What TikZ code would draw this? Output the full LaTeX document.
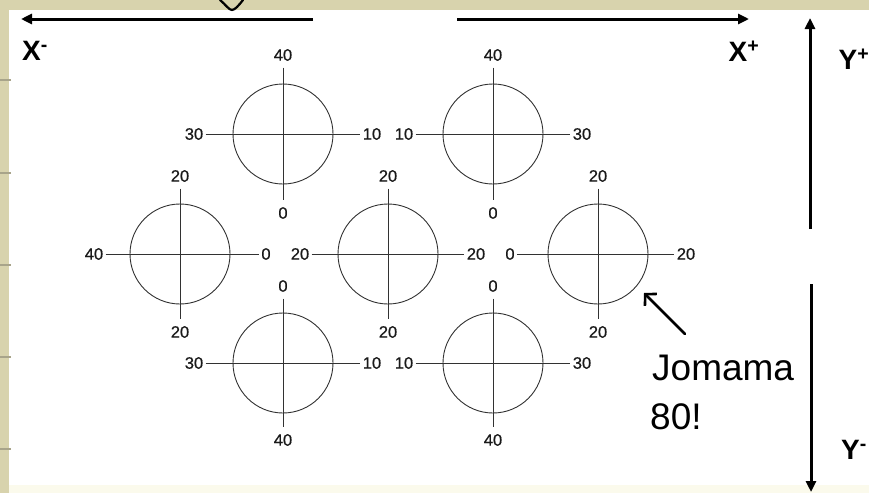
\documentclass[tikz,border=0pt]{standalone}
\usepackage{fontspec}
\setmainfont{Liberation Sans}
\newfontfamily\numfont[FakeBold=0.7]{Liberation Sans}
\usetikzlibrary{arrows.meta}
\definecolor{paper}{RGB}{216,211,173}
\definecolor{rule}{RGB}{168,164,138}
\definecolor{cream}{RGB}{251,250,236}
\definecolor{ink}{RGB}{50,50,50}
\tikzset{
  num/.style={font=\numfont\fontsize{16.5}{16.5}\selectfont, inner xsep=2.2pt, inner ysep=6.5pt, text=black!90},
  ring/.style={circle, draw=ink, line width=0.9pt, minimum size=100pt, inner sep=0pt},
  crossline/.style={draw=ink, line width=0.9pt},
  bigarrow/.style={line width=3pt, -{Triangle[length=11pt,width=10pt]}},
  dirlabel/.style={font=\bfseries\fontsize{28}{28}\selectfont, inner sep=0pt},
  hand/.style={font=\fontsize{37}{37}\selectfont, inner sep=0pt},
  handarrow/.style={line width=2.6pt, line cap=round, -{Straight Barb[length=8pt,width=17pt,line width=2.6pt]}}
}
\newcommand{\ringset}[9]{%
  % #1 name, #2 x, #3 y, #4 top, #5 bottom, #6 left, #7 right, #8 vertical offset, #9 horizontal offset
  \node[ring] (#1) at (#2,#3) {};
  \node[num] (#1-t) at (#2,#3-#8) {#4};
  \node[num] (#1-b) at (#2,#3+#8) {#5};
  \node[num] (#1-l) at (#2-#9,#3) {#6};
  \node[num] (#1-r) at (#2+#9,#3) {#7};
  \draw[crossline] (#1-t) -- (#1-b);
  \draw[crossline] (#1-l) -- (#1-r);
}
\begin{document}
\begin{tikzpicture}[x=1pt,y=-1pt]
  \useasboundingbox (0,0) rectangle (869,493);
  % paper
  \fill[white] (0,0) rectangle (869,493);
  \fill[cream] (9,485) rectangle (869,493);
  \fill[paper] (0,0) rectangle (869,9.5);
  \fill[paper] (0,0) rectangle (9,493);
  \foreach \yy in {80,173,265,357,449}
    \draw[rule, line width=1.2pt] (0,\yy) -- (11,\yy);
  % handwriting fragment at top
  \draw[line width=2.2pt, line cap=round] (220,0) .. controls (226,5) and (229,10) .. (232,10) .. controls (235,10) and (239,5) .. (243,0);

  % axis arrows
  \coordinate (xm-s) at (313,19);
  \coordinate (xm-e) at (21,19);
  \coordinate (xp-s) at (457,19);
  \coordinate (xp-e) at (749,19);
  \coordinate (yp-s) at (810,229);
  \coordinate (yp-e) at (810,18);
  \coordinate (ym-s) at (811,284);
  \coordinate (ym-e) at (811,492);
  \draw[bigarrow] (xm-s) -- (xm-e);
  \draw[bigarrow] (xp-s) -- (xp-e);
  \draw[bigarrow] (yp-s) -- (yp-e);
  \draw[bigarrow] (ym-s) -- (ym-e);

  % direction labels
  \node[dirlabel] (xminus) at (35,51) {X\textsuperscript{-}};
  \node[dirlabel] (xplus) at (744,51) {X\textsuperscript{+}};
  \node[dirlabel] (yplus) at (854,59) {Y\textsuperscript{+}};
  \node[dirlabel] (yminus) at (854,450) {Y\textsuperscript{-}};

  % circles with crosses
  \ringset{tl}{283}{134}{40}{0}{30}{10}{79}{89}
  \ringset{tr}{493}{134}{40}{0}{10}{30}{79}{89}
  \ringset{ml}{180}{254}{20}{20}{40}{0}{78}{86}
  \ringset{mm}{388}{254}{20}{20}{20}{20}{78}{88}
  \ringset{mr}{598}{254}{20}{20}{0}{20}{78}{88}
  \ringset{bl}{283}{363}{0}{40}{30}{10}{77}{89}
  \ringset{br}{493}{363}{0}{40}{10}{30}{77}{89}

  % handwritten note
  \node[hand, anchor=base west] (note1) at (652,380) {Jomama};
  \node[hand, anchor=base west] (note2) at (650,429) {80!};
  \coordinate (tail) at (685,334);
  \coordinate (tip) at (644,293);
  \draw[handarrow] (tail) -- (tip);
\end{tikzpicture}
\end{document}
